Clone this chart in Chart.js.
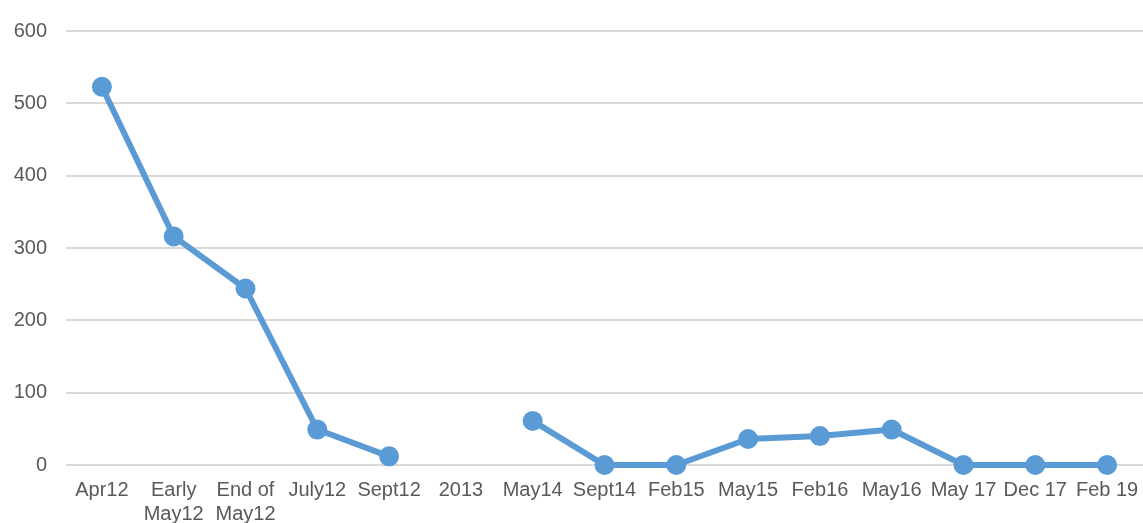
<!DOCTYPE html>
<html><head><meta charset="utf-8">
<script src="https://cdn.jsdelivr.net/npm/chart.js@4/dist/chart.umd.min.js"></script>
<style>html,body{margin:0;padding:0;background:#fff;overflow:hidden}#wrap{width:1143px;height:523px;overflow:hidden}</style>
</head><body><div id="wrap"><canvas id="c" width="1156" height="523"></canvas></div>
<script>
const categories = [["Apr12"],["Early","May12"],["End of","May12"],["July12"],["Sept12"],["2013"],["May14"],["Sept14"],["Feb15"],["May15"],["Feb16"],["May16"],["May 17"],["Dec 17"],["Feb 19"]];
const values = [523, 316, 244, 49, 12, null, 61, 0, 0, 36, 40, 49, 0, 0, 0];
const yTicks = [0, 100, 200, 300, 400, 500, 600];

new Chart(document.getElementById('c'), {
  type: 'line',
  data: { labels: categories, datasets: [{
    data: values, borderColor: '#5b9bd5', backgroundColor: '#5b9bd5',
    borderWidth: 6, pointRadius: 7, pointHoverRadius: 7, spanGaps: false,
    borderJoinStyle: 'round', borderCapStyle: 'round', tension: 0, clip: false
  }]},
  options: {
    responsive: false, animation: false,
    layout: { padding: { top: 27, right: 0, left: 0, bottom: 0 } },
    plugins: { legend: { display: false }, tooltip: { enabled: false } },
    scales: {
      x: {
        offset: true,
        afterFit: (s) => { s.height = 58; },
        grid: { display: false, drawTicks: false },
        border: { display: false },
        ticks: { autoSkip: false, maxRotation: 0, minRotation: 0, padding: 13,
          color: '#595959', font: { family: 'Liberation Sans', size: 20 }, lineHeight: 1.2 }
      },
      y: {
        min: 0, max: 600,
        afterFit: (s) => { s.width = 66; },
        afterBuildTicks: (s) => { s.ticks = yTicks.map(v => ({ value: v })); },
        grid: { color: '#d9d9d9', lineWidth: 2, drawTicks: false },
        border: { display: false },
        ticks: { padding: 19, color: '#595959', font: { family: 'Liberation Sans', size: 20 } }
      }
    }
  }
});
</script></body></html>
